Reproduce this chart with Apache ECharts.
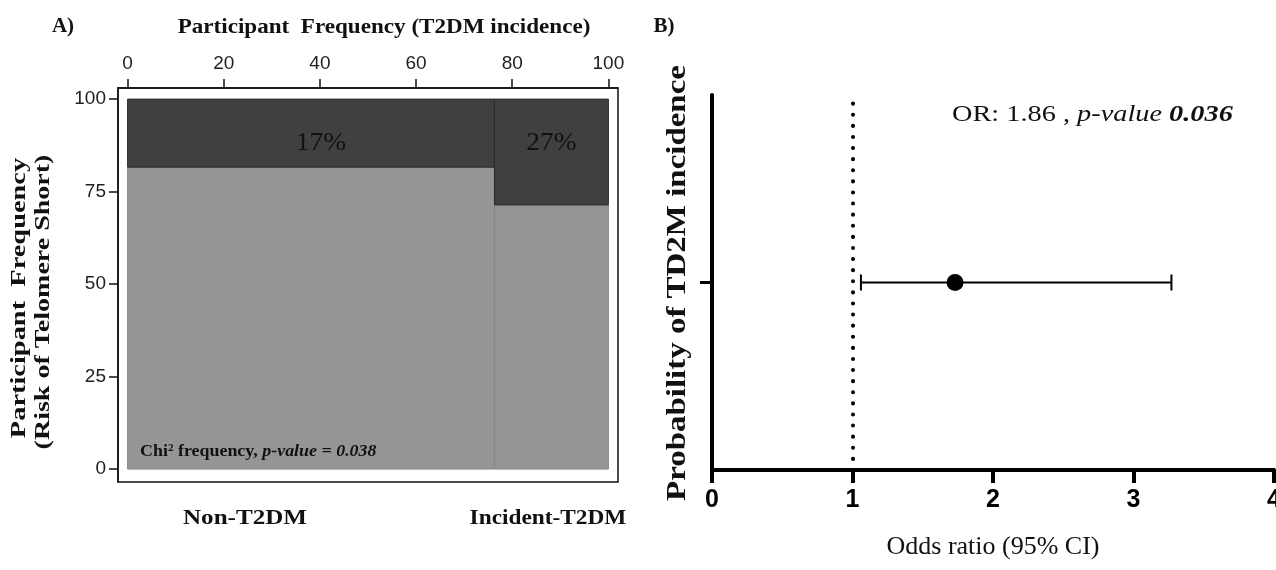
<!DOCTYPE html>
<html>
<head>
<meta charset="utf-8">
<script src="https://cdn.jsdelivr.net/npm/echarts@6/dist/echarts.min.js"></script>
<style>
  html, body { margin: 0; padding: 0; background: #fff; }
  #chart { width: 1276px; height: 570px; }
</style>
</head>
<body>
<div id="chart"></div>
<script>
// Panel A: mosaic (T2DM incidence x telomere short risk)
const groups = ['Non-T2DM', 'Incident-T2DM'];
const groupShare = [76.3, 23.7];          // % of participants (x widths)
const shortShare = [18.4, 28.6];          // dark (short telomere) height, as drawn
const shortLabels = ['17%', '27%'];
const xTicksA = [0, 20, 40, 60, 80, 100];
const yTicksA = [0, 25, 50, 75, 100];

// Panel B: odds ratio
const orPoint = 1.73;
const orLower = 1.06;
const orUpper = 3.27;
const xTicksB = [0, 1, 2, 3, 4];

const serif = 'Liberation Serif';
const sans = 'Liberation Sans';

// build mosaic rectangles: [x0, x1, y0, y1, kind, label]
const mosaic = [];
let start = 0;
groups.forEach((g, i) => {
  const end = start + groupShare[i];
  const cut = 100 - shortShare[i];
  mosaic.push([start, end, 0, cut, 0, '']);
  mosaic.push([start, end, cut, 100, 1, shortLabels[i]]);
  start = end;
});

// small helper for plain text in the graphic layer
const txt = (x, y, text, font, extra) => Object.assign({
  type: 'text', x, y,
  style: { text, font, fill: '#111', align: 'center', verticalAlign: 'middle' }
}, extra || {});

const chart = echarts.init(document.getElementById('chart'));

const option = {
  animation: false,
  grid: [
    { left: 118, top: 88, width: 500, height: 394, outerBoundsMode: 'none', show: true, borderColor: '#111', borderWidth: 1.5, backgroundColor: '#fff' },
    { left: 712, top: 95, width: 562, height: 375, outerBoundsMode: 'none' }
  ],
  xAxis: [
    {
      gridIndex: 0, type: 'value', position: 'top', min: -2, max: 102,
      axisLine: { show: true, onZero: false, lineStyle: { color: '#111', width: 1.5 } },
      splitLine: { show: false },
      axisTick: { show: true, length: 9, customValues: xTicksA, lineStyle: { color: '#111', width: 1.5 } },
      axisLabel: { customValues: xTicksA, margin: 15, fontFamily: sans, fontSize: 19, color: '#222' }
    },
    {
      gridIndex: 1, type: 'value', min: 0, max: 4, interval: 1,
      axisLine: { show: true, onZero: false, lineStyle: { color: '#000', width: 4 } },
      splitLine: { show: false },
      axisTick: { show: true, length: 13, customValues: xTicksB, lineStyle: { color: '#000', width: 4 } },
      axisLabel: { customValues: xTicksB, margin: 18, fontFamily: sans, fontWeight: 'bold', fontSize: 25, color: '#000' },
      name: 'Odds ratio (95% CI)', nameLocation: 'middle', nameGap: 64,
      nameTextStyle: { fontFamily: serif, fontSize: 26, color: '#111' }
    }
  ],
  yAxis: [
    {
      gridIndex: 0, type: 'value', min: -3.5, max: 103,
      axisLine: { show: true, onZero: false, lineStyle: { color: '#111', width: 1.5 } },
      splitLine: { show: false },
      axisTick: { show: true, length: 9, customValues: yTicksA, lineStyle: { color: '#111', width: 1.5 } },
      axisLabel: { customValues: yTicksA, margin: 12, fontFamily: sans, fontSize: 19, color: '#222' }
    },
    {
      gridIndex: 1, type: 'value', min: 0, max: 2,
      axisLine: { show: true, onZero: false, lineStyle: { color: '#000', width: 4 } },
      splitLine: { show: false },
      axisTick: { show: true, length: 12, customValues: [1], lineStyle: { color: '#000', width: 3 } },
      axisLabel: { show: false }
    }
  ],
  graphic: [
    txt(63, 27, 'A)', 'bold 21px ' + serif),
    txt(384, 27, 'Participant  Frequency (T2DM incidence)', 'bold 22px ' + serif, { scaleX: 1.05 }),
    txt(664, 27, 'B)', 'bold 21px ' + serif),
    txt(20, 298, 'Participant  Frequency', 'bold 20px ' + serif, { rotation: Math.PI / 2, scaleX: 1.42 }),
    txt(44, 302, '(Risk of Telomere Short)', 'bold 20px ' + serif, { rotation: Math.PI / 2, scaleX: 1.4 }),
    txt(678, 283, 'Probability of TD2M incidence', 'bold 27px ' + serif, { rotation: Math.PI / 2, scaleX: 1.22 }),
    txt(245, 518, groups[0], 'bold 22px ' + serif, { scaleX: 1.14 }),
    txt(548, 518, groups[1], 'bold 22px ' + serif, { scaleX: 1.06 }),
    {
      type: 'text', x: 140, y: 452, z: 100, scaleX: 1.12,
      style: {
        text: '{b|Chi}{sup|2}{b| frequency, }{bi|p-value = 0.038}',
        verticalAlign: 'middle',
        rich: {
          b: { fontFamily: serif, fontWeight: 'bold', fontSize: 16, fill: '#111' },
          sup: { fontFamily: serif, fontWeight: 'bold', fontSize: 10, fill: '#111', verticalAlign: 'bottom', padding: [0, 0, 7, 0] },
          bi: { fontFamily: serif, fontWeight: 'bold', fontStyle: 'italic', fontSize: 16, fill: '#111' }
        }
      }
    },
    {
      type: 'text', x: 952, y: 115, scaleX: 1.18,
      style: {
        text: '{n|OR: 1.86 , }{i|p-value }{bi|0.036}',
        verticalAlign: 'middle',
        rich: {
          n: { fontFamily: serif, fontSize: 24, fill: '#111' },
          i: { fontFamily: serif, fontStyle: 'italic', fontSize: 24, fill: '#111' },
          bi: { fontFamily: serif, fontStyle: 'italic', fontWeight: 'bold', fontSize: 24, fill: '#111' }
        }
      }
    }
  ],
  series: [
    {
      type: 'custom',
      xAxisIndex: 0, yAxisIndex: 0,
      data: mosaic,
      renderItem: (params, api) => {
        const tl = api.coord([api.value(0), api.value(3)]);
        const br = api.coord([api.value(1), api.value(2)]);
        const dark = api.value(4) === 1;
        const children = [{
          type: 'rect',
          shape: { x: tl[0], y: tl[1], width: br[0] - tl[0], height: br[1] - tl[1] },
          style: { fill: dark ? '#404040' : '#959595', stroke: dark ? '#2a2a2a' : '#858585', lineWidth: 1 }
        }];
        const label = mosaic[params.dataIndex][5];
        if (label) {
          const c = api.coord([(api.value(0) + api.value(1)) / 2, 88]);
          children.push({
            type: 'text',
            x: c[0] + (params.dataIndex === 1 ? 10 : 0), y: c[1],
            scaleX: 1.1,
            style: { text: label, font: '25px ' + serif, fill: '#111', align: 'center', verticalAlign: 'middle' }
          });
        }
        return { type: 'group', children };
      }
    },
    {
      type: 'custom',
      xAxisIndex: 1, yAxisIndex: 1,
      data: [[orLower, orUpper, 1]],
      renderItem: (params, api) => {
        const y = api.value(2);
        const lo = api.coord([api.value(0), y]);
        const hi = api.coord([api.value(1), y]);
        const st = { stroke: '#000', lineWidth: 2 };
        return {
          type: 'group',
          children: [
            { type: 'line', shape: { x1: lo[0], y1: lo[1], x2: hi[0], y2: hi[1] }, style: st },
            { type: 'line', shape: { x1: lo[0], y1: lo[1] - 8, x2: lo[0], y2: lo[1] + 8 }, style: st },
            { type: 'line', shape: { x1: hi[0], y1: hi[1] - 8, x2: hi[0], y2: hi[1] + 8 }, style: st }
          ]
        };
      }
    },
    {
      type: 'scatter',
      xAxisIndex: 1, yAxisIndex: 1,
      data: [[orPoint, 1]],
      symbolSize: 17,
      itemStyle: { color: '#000', opacity: 1 },
      z: 5,
      markLine: {
        silent: true,
        symbol: 'none',
        label: { show: false },
        lineStyle: { color: '#000', width: 4, type: [0.1, 11], cap: 'round' },
        data: [{ xAxis: 1 }]
      }
    }
  ]
};

chart.setOption(option);
</script>
</body>
</html>
